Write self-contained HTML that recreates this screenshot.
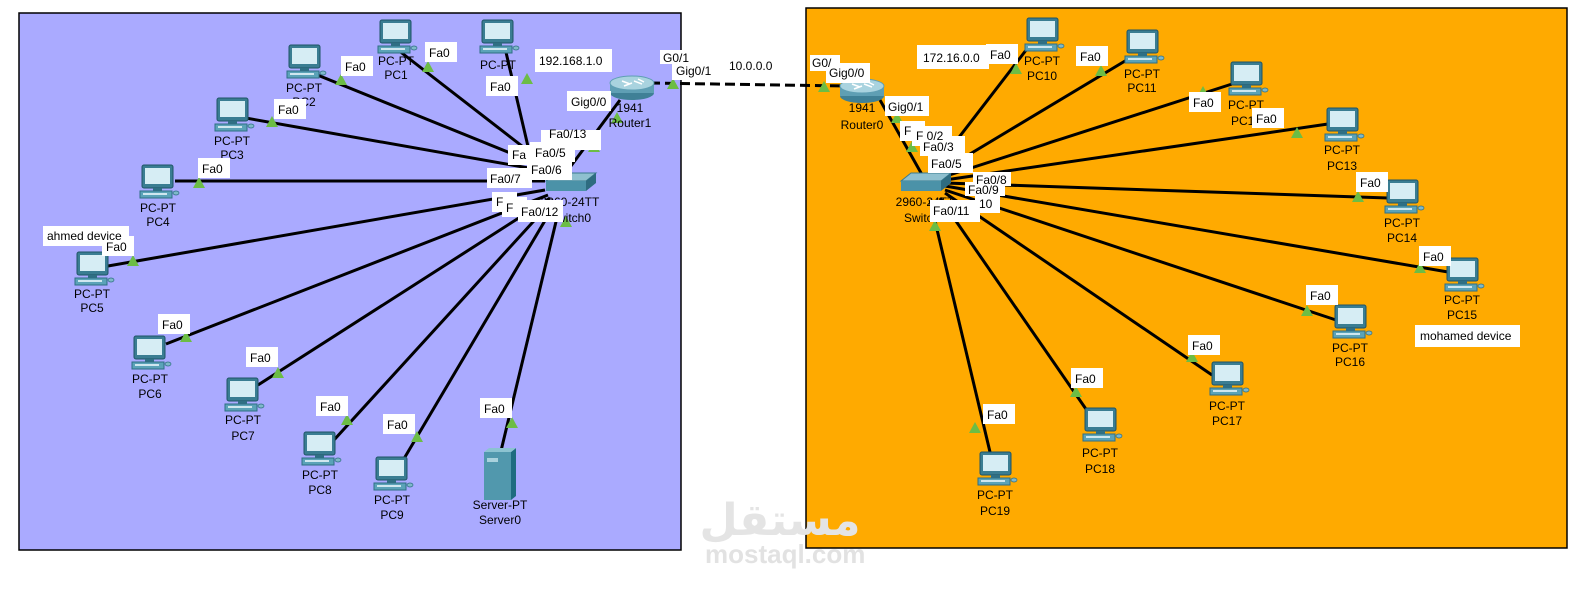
<!DOCTYPE html>
<html><head><meta charset="utf-8"><style>
html,body{margin:0;padding:0;background:#fff;}
svg{display:block;font-family:"Liberation Sans",Arial,sans-serif;font-size:12px;}
.t{fill:#000;text-anchor:middle}
.l{stroke:#000;stroke-width:3}
</style></head><body>
<svg width="1587" height="589" viewBox="0 0 1587 589" xmlns="http://www.w3.org/2000/svg">
<defs>
<g id="pc">
<rect x="2" y="0" width="31" height="23" rx="2" fill="#3a7d92" stroke="#1f5466"/>
<rect x="5" y="3" width="25" height="16" fill="#d6edf4"/>
<rect x="13" y="23" width="9" height="3" fill="#2f6f84"/>
<rect x="0" y="26" width="32" height="7" fill="#5ba3b8" stroke="#2f6f84"/>
<rect x="3" y="28" width="24" height="2" fill="#cfe7ef"/>
<ellipse cx="36" cy="28" rx="3" ry="2" fill="#7fb8c9" stroke="#2f6f84" stroke-width=".7"/>
</g>
<g id="tri"><polygon points="0,-6 -6,5 6,5" fill="#6cbd45"/></g>
<g id="router">
<ellipse cx="0" cy="8" rx="22" ry="7" fill="#3f8096"/>
<rect x="-22" y="-2" width="44" height="10" fill="#5f9fb4"/>
<ellipse cx="0" cy="-2" rx="22" ry="7" fill="#a9d3df" stroke="#5f9fb4"/>
<path d="M-10,-4 L-2,-1 M2,-4 L10,-1 M-8,1 L0,-2 M6,-6 L12,-3" stroke="#fff" stroke-width="1.5"/>
</g>
<g id="sw">
<polygon points="-24,-4 -14,-12 26,-12 16,-4" fill="#8fc0cf" stroke="#3b7b8f"/>
<rect x="-24" y="-4" width="40" height="10" fill="#4b92a8"/>
<polygon points="16,-4 26,-12 26,-2 16,6" fill="#2e6c80"/>
</g>
</defs>

<rect x="19" y="13" width="662" height="537" fill="#aaaaff" stroke="#000" stroke-width="1.5"/>
<rect x="806" y="8" width="761" height="540" fill="#ffaa00" stroke="#000" stroke-width="1.5"/>

<!-- watermark -->
<text x="780" y="535" text-anchor="middle" style="font-family:'DejaVu Sans',sans-serif;font-size:44px;font-weight:bold" fill="#e4e4e4">مستقل</text>
<text x="705" y="563" style="font-size:26px;font-weight:bold" fill="#e2e2e2">mostaql.com</text>

<!-- left links -->
<g class="l">
<line x1="398" y1="50" x2="540" y2="160"/>
<line x1="310" y1="72" x2="540" y2="165"/>
<line x1="240" y1="117" x2="540" y2="170"/>
<line x1="175" y1="181" x2="545" y2="181"/>
<line x1="108" y1="266" x2="545" y2="190"/>
<line x1="166" y1="344" x2="548" y2="195"/>
<line x1="258" y1="385" x2="550" y2="198"/>
<line x1="334" y1="440" x2="553" y2="200"/>
<line x1="402" y1="462" x2="556" y2="202"/>
<line x1="500" y1="455" x2="560" y2="205"/>
<line x1="505" y1="48" x2="530" y2="155"/>
<line x1="562" y1="178" x2="620" y2="100"/>
<line x1="880" y1="100" x2="925" y2="180"/>
</g>
<line x1="650" y1="83" x2="845" y2="86" stroke="#000" stroke-width="3" stroke-dasharray="10,5"/>

<!-- right links -->
<g class="l">
<line x1="1030" y1="45" x2="930" y2="175"/>
<line x1="1130" y1="58" x2="935" y2="175"/>
<line x1="1232" y1="84" x2="940" y2="178"/>
<line x1="1328" y1="124" x2="945" y2="180"/>
<line x1="1388" y1="198" x2="945" y2="183"/>
<line x1="1448" y1="272" x2="945" y2="186"/>
<line x1="1336" y1="320" x2="945" y2="190"/>
<line x1="1212" y1="375" x2="945" y2="193"/>
<line x1="1088" y1="412" x2="940" y2="198"/>
<line x1="990" y1="452" x2="930" y2="200"/>
</g>

<!-- triangles left -->
<use href="#tri" x="428" y="67"/><use href="#tri" x="341" y="80"/><use href="#tri" x="272" y="122"/>
<use href="#tri" x="199" y="183"/><use href="#tri" x="133" y="261"/><use href="#tri" x="186" y="337"/>
<use href="#tri" x="278" y="373"/><use href="#tri" x="347" y="420"/><use href="#tri" x="417" y="437"/>
<use href="#tri" x="512" y="423"/><use href="#tri" x="527" y="79"/><use href="#tri" x="594" y="147"/>
<use href="#tri" x="617" y="118"/><use href="#tri" x="566" y="222"/><use href="#tri" x="673" y="84"/>
<use href="#tri" x="824" y="87"/><use href="#tri" x="897" y="118"/><use href="#tri" x="912" y="147"/>
<use href="#tri" x="1016" y="69"/><use href="#tri" x="1101" y="71"/><use href="#tri" x="1203" y="92"/>
<use href="#tri" x="1297" y="133"/><use href="#tri" x="1358" y="197"/><use href="#tri" x="1420" y="268"/>
<use href="#tri" x="1307" y="311"/><use href="#tri" x="1192" y="357"/><use href="#tri" x="1076" y="392"/>
<use href="#tri" x="975" y="428"/><use href="#tri" x="935" y="226"/><use href="#tri" x="978" y="180"/>

<!-- PCs -->
<g>
<use href="#pc" x="378" y="20"/><text class="t" x="396" y="65">PC-PT</text><text class="t" x="396" y="79">PC1</text>
<use href="#pc" x="287" y="45"/><text class="t" x="304" y="92">PC-PT</text><text class="t" x="304" y="106">PC2</text>
<use href="#pc" x="215" y="98"/><text class="t" x="232" y="145">PC-PT</text><text class="t" x="232" y="159">PC3</text>
<use href="#pc" x="140" y="165"/><text class="t" x="158" y="212">PC-PT</text><text class="t" x="158" y="226">PC4</text>
<use href="#pc" x="75" y="252"/><text class="t" x="92" y="298">PC-PT</text><text class="t" x="92" y="312">PC5</text>
<use href="#pc" x="132" y="336"/><text class="t" x="150" y="383">PC-PT</text><text class="t" x="150" y="398">PC6</text>
<use href="#pc" x="225" y="378"/><text class="t" x="243" y="424">PC-PT</text><text class="t" x="243" y="440">PC7</text>
<use href="#pc" x="302" y="432"/><text class="t" x="320" y="479">PC-PT</text><text class="t" x="320" y="494">PC8</text>
<use href="#pc" x="374" y="457"/><text class="t" x="392" y="504">PC-PT</text><text class="t" x="392" y="519">PC9</text>
<use href="#pc" x="480" y="20"/><text class="t" x="498" y="69">PC-PT</text>

<use href="#pc" x="1025" y="18"/><text class="t" x="1042" y="65">PC-PT</text><text class="t" x="1042" y="80">PC10</text>
<use href="#pc" x="1125" y="30"/><text class="t" x="1142" y="78">PC-PT</text><text class="t" x="1142" y="92">PC11</text>
<use href="#pc" x="1229" y="62"/><text class="t" x="1246" y="109">PC-PT</text><text class="t" x="1246" y="125">PC12</text>
<use href="#pc" x="1325" y="108"/><text class="t" x="1342" y="154">PC-PT</text><text class="t" x="1342" y="170">PC13</text>
<use href="#pc" x="1385" y="180"/><text class="t" x="1402" y="227">PC-PT</text><text class="t" x="1402" y="242">PC14</text>
<use href="#pc" x="1445" y="258"/><text class="t" x="1462" y="304">PC-PT</text><text class="t" x="1462" y="319">PC15</text>
<use href="#pc" x="1333" y="305"/><text class="t" x="1350" y="352">PC-PT</text><text class="t" x="1350" y="366">PC16</text>
<use href="#pc" x="1210" y="362"/><text class="t" x="1227" y="410">PC-PT</text><text class="t" x="1227" y="425">PC17</text>
<use href="#pc" x="1083" y="408"/><text class="t" x="1100" y="457">PC-PT</text><text class="t" x="1100" y="473">PC18</text>
<use href="#pc" x="978" y="452"/><text class="t" x="995" y="499">PC-PT</text><text class="t" x="995" y="515">PC19</text>
</g>

<!-- server -->
<rect x="484" y="452" width="27" height="48" fill="#5198ad"/>
<polygon points="511,452 516,448 516,496 511,500" fill="#1f6c80"/>
<polygon points="484,452 489,448 516,448 511,452" fill="#8cc3d1"/>
<rect x="487" y="458" width="11" height="4" fill="#a9d2dd"/>
<text class="t" x="500" y="509">Server-PT</text><text class="t" x="500" y="524">Server0</text>

<!-- routers, switches -->
<use href="#router" x="632" y="85"/>
<text class="t" x="630" y="112">1941</text><text class="t" x="630" y="127">Router1</text>
<use href="#router" x="862" y="88"/>
<text class="t" x="862" y="112">1941</text><text class="t" x="862" y="129">Router0</text>
<use href="#sw" x="570" y="185"/>
<text class="t" x="570" y="206">2960-24TT</text><text class="t" x="570" y="222">Switch0</text>
<use href="#sw" x="925" y="185"/>
<text class="t" x="925" y="206">2960-24TT</text><text class="t" x="925" y="222">Switch1</text>

<!-- white label boxes -->
<g font-size="12">
<g fill="#fff">
<rect x="425" y="42" width="32" height="20"/><rect x="341" y="56" width="32" height="20"/>
<rect x="274" y="99" width="32" height="20"/><rect x="198" y="158" width="32" height="20"/>
<rect x="102" y="236" width="32" height="20"/><rect x="158" y="314" width="32" height="20"/>
<rect x="246" y="347" width="32" height="20"/><rect x="316" y="396" width="32" height="20"/>
<rect x="383" y="414" width="32" height="20"/><rect x="480" y="398" width="32" height="20"/>
<rect x="486" y="76" width="32" height="20"/>
<rect x="535" y="49" width="77" height="23"/><rect x="567" y="91" width="44" height="20"/>
<rect x="672" y="60" width="44" height="20"/><rect x="660" y="50" width="30" height="14"/>
<rect x="725" y="55" width="55" height="22"/>
<rect x="541" y="130" width="60" height="20"/>
<rect x="508" y="145" width="30" height="20"/><rect x="530" y="142" width="45" height="20"/>
<rect x="527" y="160" width="45" height="20"/><rect x="487" y="168" width="45" height="20"/>
<rect x="492" y="192" width="25" height="20"/><rect x="502" y="197" width="25" height="20"/>
<rect x="518" y="200" width="45" height="22"/>
<rect x="43" y="226" width="86" height="20"/>

<rect x="810" y="55" width="30" height="16"/><rect x="826" y="63" width="44" height="20"/>
<rect x="885" y="96" width="44" height="20"/><rect x="917" y="45" width="72" height="24"/>
<rect x="986" y="44" width="32" height="20"/><rect x="1076" y="46" width="32" height="20"/>
<rect x="1189" y="92" width="32" height="20"/><rect x="1252" y="108" width="32" height="20"/>
<rect x="1356" y="172" width="32" height="20"/><rect x="1419" y="246" width="32" height="20"/>
<rect x="1306" y="285" width="32" height="20"/><rect x="1188" y="335" width="32" height="20"/>
<rect x="1071" y="368" width="32" height="20"/><rect x="983" y="404" width="32" height="20"/>
<rect x="900" y="121" width="25" height="20"/><rect x="912" y="126" width="40" height="20"/>
<rect x="920" y="136" width="45" height="20"/><rect x="928" y="153" width="45" height="20"/>
<rect x="973" y="172" width="38" height="14"/><rect x="965" y="182" width="40" height="14"/>
<rect x="975" y="193" width="25" height="20"/><rect x="930" y="200" width="50" height="22"/>
<rect x="1415" y="325" width="105" height="22"/>
</g>
<g fill="#000">
<text x="429" y="57">Fa0</text><text x="345" y="71">Fa0</text><text x="278" y="114">Fa0</text>
<text x="202" y="173">Fa0</text><text x="106" y="251">Fa0</text><text x="162" y="329">Fa0</text>
<text x="250" y="362">Fa0</text><text x="320" y="411">Fa0</text><text x="387" y="429">Fa0</text>
<text x="484" y="413">Fa0</text><text x="490" y="91">Fa0</text>
<text x="539" y="65">192.168.1.0</text><text x="571" y="106">Gig0/0</text>
<text x="676" y="75">Gig0/1</text><text x="663" y="62">G0/1</text><text x="729" y="70">10.0.0.0</text>
<text x="549" y="138">Fa0/13</text><text x="512" y="159">Fa</text><text x="535" y="157">Fa0/5</text>
<text x="531" y="174">Fa0/6</text><text x="490" y="183">Fa0/7</text><text x="496" y="206">F</text>
<text x="506" y="212">F</text><text x="521" y="216">Fa0/12</text>
<text x="47" y="240">ahmed device</text>
<text x="812" y="67">G0/</text><text x="829" y="77">Gig0/0</text><text x="888" y="111">Gig0/1</text>
<text x="923" y="62">172.16.0.0</text>
<text x="990" y="59">Fa0</text><text x="1080" y="61">Fa0</text><text x="1193" y="107">Fa0</text>
<text x="1256" y="123">Fa0</text><text x="1360" y="187">Fa0</text><text x="1423" y="261">Fa0</text>
<text x="1310" y="300">Fa0</text><text x="1192" y="350">Fa0</text><text x="1075" y="383">Fa0</text>
<text x="987" y="419">Fa0</text>
<text x="904" y="135">F</text><text x="916" y="140">F 0/2</text><text x="923" y="151">Fa0/3</text>
<text x="931" y="168">Fa0/5</text><text x="976" y="184">Fa0/8</text><text x="968" y="194">Fa0/9</text>
<text x="979" y="208">10</text><text x="933" y="215">Fa0/11</text>
<text x="1420" y="340">mohamed device</text>
</g>
</g>
</svg>
</body></html>
